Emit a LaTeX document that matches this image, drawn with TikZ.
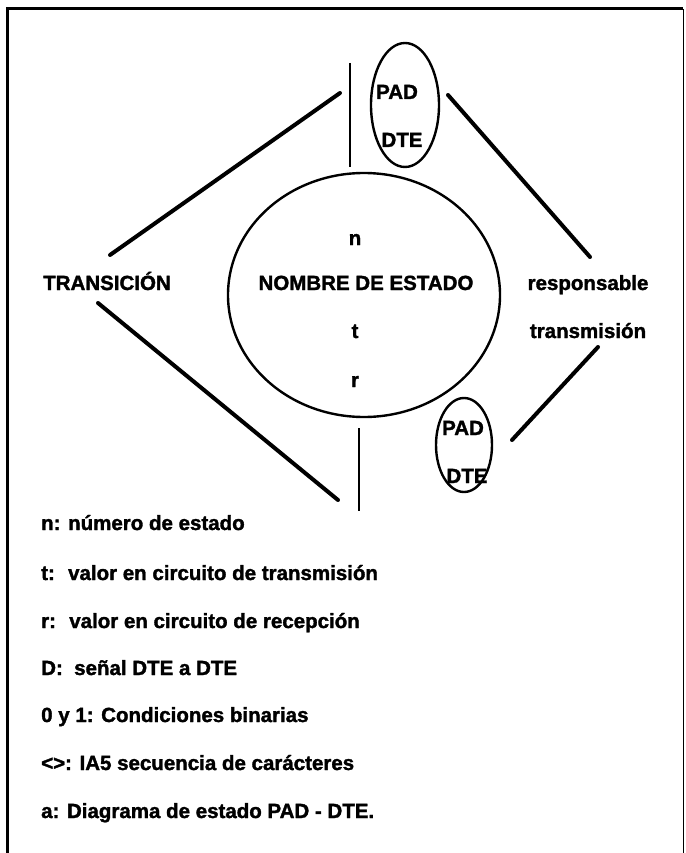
\documentclass[tikz,border=0pt]{standalone}
\usepackage{fontspec}
\setmainfont{Liberation Sans}[BoldFeatures={FakeBold=1.6}]
\usepackage{tikz}
\usetikzlibrary{shapes.geometric}

\begin{document}
\begin{tikzpicture}[x=1pt, y=-1pt,
    txt/.style={font=\fontsize{20.5}{24}\selectfont\bfseries, inner sep=0pt,
                text height=14pt, text depth=4pt},
    leyenda/.style={txt, anchor=west},
    oval/.style={draw, ellipse, line width=2.4pt, inner sep=0pt},
    trazo/.style={line width=4pt, line cap=round},
    barra/.style={line width=2.4pt}
  ]
  \useasboundingbox (0,0) rectangle (685,853);
  % marco
  \draw[line width=3pt] (7,853) -- (7,9) -- (683,9);
  \draw[line width=1pt] (683,9) -- (683,853);

  % estado
  \node[oval, minimum width=272pt, minimum height=244pt] (estado) at (364,295) {};
  \node[oval, minimum width=68pt, minimum height=124pt] (pad1) at (405,105) {};
  \node[oval, minimum width=56pt, minimum height=94pt] (pad2) at (464,445) {};

  \node[txt] (n) at (355,240) {n};
  \node[txt] (nombre) at (366,285) {NOMBRE DE ESTADO};
  \node[txt] (t) at (355,333) {t};
  \node[txt] (r) at (355,382) {r};
  \node[txt] (pad1a) at (397,94) {PAD};
  \node[txt] (pad1b) at (402,142) {DTE};
  \node[txt] (pad2a) at (463,430) {PAD};
  \node[txt] (pad2b) at (467,478) {DTE};
  \node[txt] (trans) at (107,285) {TRANSICIÓN};
  \node[txt] (resp) at (588,285) {responsable};
  \node[txt] (transm) at (588,333) {transmisión};

  % trazos
  \coordinate (tl1) at (340,93);  \coordinate (tl2) at (110,255);
  \coordinate (tr1) at (448,95);  \coordinate (tr2) at (590,257);
  \coordinate (bl1) at (98,303);  \coordinate (bl2) at (338,500);
  \coordinate (br1) at (598,347); \coordinate (br2) at (512,440);
  \coordinate (vs1) at (350,63);  \coordinate (vs2) at (350,167);
  \coordinate (vi1) at (359,428); \coordinate (vi2) at (359,511);
  \draw[trazo] (tl1) -- (tl2);
  \draw[trazo] (tr1) -- (tr2);
  \draw[trazo] (bl1) -- (bl2);
  \draw[trazo] (br1) -- (br2);
  \draw[barra] (vs1) -- (vs2);
  \draw[barra] (vi1) -- (vi2);

  % leyenda
  \node[leyenda] (l1) at (41,525) {n: número de estado};
  \node[leyenda] (l2) at (41,575) {t:~ valor en circuito de transmisión};
  \node[leyenda] (l3) at (41,623) {r:~ valor en circuito de recepción};
  \node[leyenda] (l4) at (41,670) {D:~ señal DTE a DTE};
  \node[leyenda] (l5) at (41,717) {0 y 1: Condiciones binarias};
  \node[leyenda] (l6) at (41,765) {<>: IA5 secuencia de carácteres};
  \node[leyenda] (l7) at (41,813) {a: Diagrama de estado PAD - DTE.};
\end{tikzpicture}
\end{document}
